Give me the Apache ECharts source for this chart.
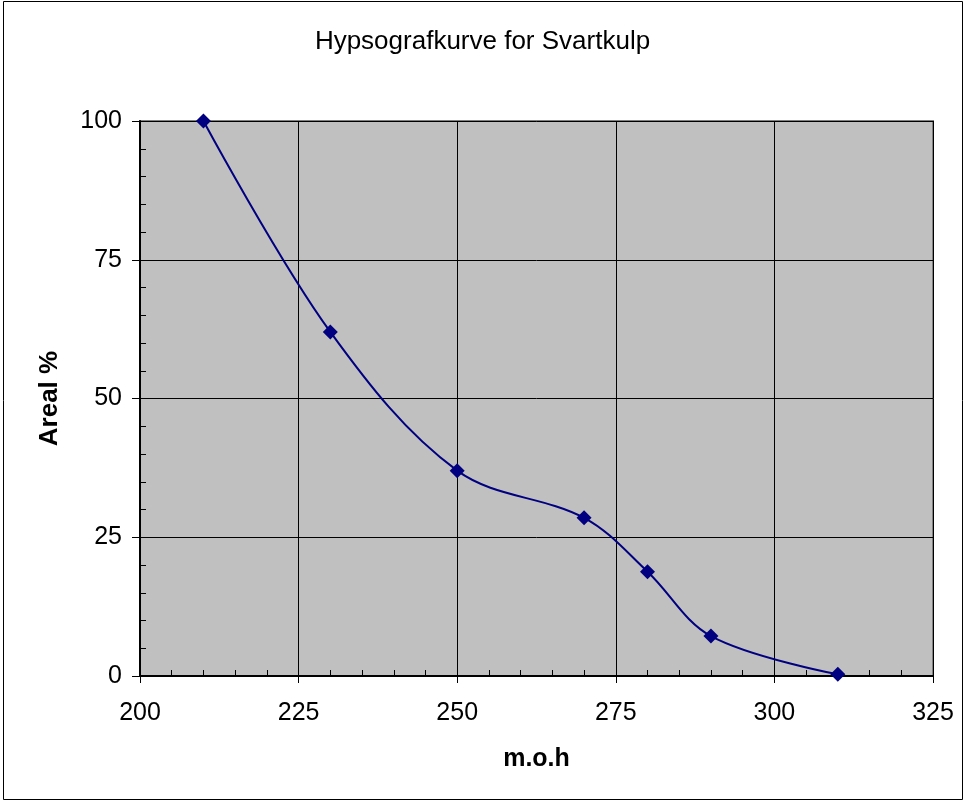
<!DOCTYPE html>
<html>
<head>
<meta charset="utf-8">
<script src="https://cdn.jsdelivr.net/npm/echarts@6/dist/echarts.min.js"></script>
<style>
  html, body { margin: 0; padding: 0; background: #fff; }
  #main { width: 965px; height: 803px; }
</style>
</head>
<body>
<div id="main"></div>
<script>
// hoyde (m.o.h) og areal i prosent
var hoyde = [210, 230, 250, 270, 280, 290, 310];
var areal = [100, 62, 37, 28.5, 18.8, 7.2, 0.3];

var chart = echarts.init(document.getElementById('main'));

var points = hoyde.map(function (h, i) {
  return [h, areal[i]];
});

var font = 'Liberation Sans, Arial, sans-serif';

var options = {
  animation: false,
  backgroundColor: '#fff',
  title: {
    text: 'Hypsografkurve for Svartkulp',
    left: 'center',
    top: 24,
    textStyle: { fontFamily: font, fontSize: 26, fontWeight: 'normal', color: '#000' }
  },
  graphic: [{
    type: 'rect',
    shape: { x: 3.5, y: 1.5, width: 959, height: 798 },
    style: { fill: null, stroke: '#000', lineWidth: 1 },
    silent: true
  }],
  grid: {
    left: 140, right: 32, top: 121, bottom: 127,
    show: true,
    backgroundColor: '#c0c0c0',
    borderColor: '#808080',
    borderWidth: 2
  },
  xAxis: [{
    type: 'value',
    min: 200, max: 325, interval: 25,
    name: 'm.o.h',
    nameLocation: 'middle',
    nameGap: 71,
    nameTextStyle: { fontFamily: font, fontSize: 25, fontWeight: 'bold', color: '#000' },
    axisLine: { show: true, onZero: false, lineStyle: { color: '#000', width: 2 } },
    axisTick: { show: true, length: 7, lineStyle: { color: '#000' } },
    axisLabel: { fontFamily: font, fontSize: 25, color: '#000', margin: 25 },
    splitLine: { show: true, lineStyle: { color: '#000', width: 1 } }
  }, {
    // small ticks, every 5
    type: 'value',
    position: 'bottom',
    min: 200, max: 325, interval: 5,
    axisLine: { show: false },
    axisTick: { show: true, inside: true, length: 6, lineStyle: { color: '#000' } },
    axisLabel: { show: false },
    splitLine: { show: false }
  }],
  yAxis: [{
    type: 'value',
    min: 0, max: 100, interval: 25,
    name: 'Areal %',
    nameLocation: 'middle',
    nameGap: 77,
    nameRotate: 90,
    nameTextStyle: { fontFamily: font, fontSize: 26, fontWeight: 'bold', color: '#000' },
    axisLine: { show: true, onZero: false, lineStyle: { color: '#000', width: 2 } },
    axisTick: { show: true, length: 8, lineStyle: { color: '#000' } },
    axisLabel: { fontFamily: font, fontSize: 25, color: '#000', margin: 18 },
    splitLine: { show: true, lineStyle: { color: '#000', width: 1 } }
  }, {
    type: 'value',
    position: 'left',
    min: 0, max: 100, interval: 5,
    axisLine: { show: false },
    axisTick: { show: true, inside: true, length: 6, lineStyle: { color: '#000' } },
    axisLabel: { show: false },
    splitLine: { show: false }
  }],
  series: [{
    type: 'line',
    data: points,
    xAxisIndex: 0,
    yAxisIndex: 0,
    smooth: 0.35,
    symbol: 'diamond',
    symbolSize: 15,
    itemStyle: { color: '#000080' },
    lineStyle: { color: '#000080', width: 2 },
    z: 5
  }]
};

chart.setOption(options);
</script>
</body>
</html>
